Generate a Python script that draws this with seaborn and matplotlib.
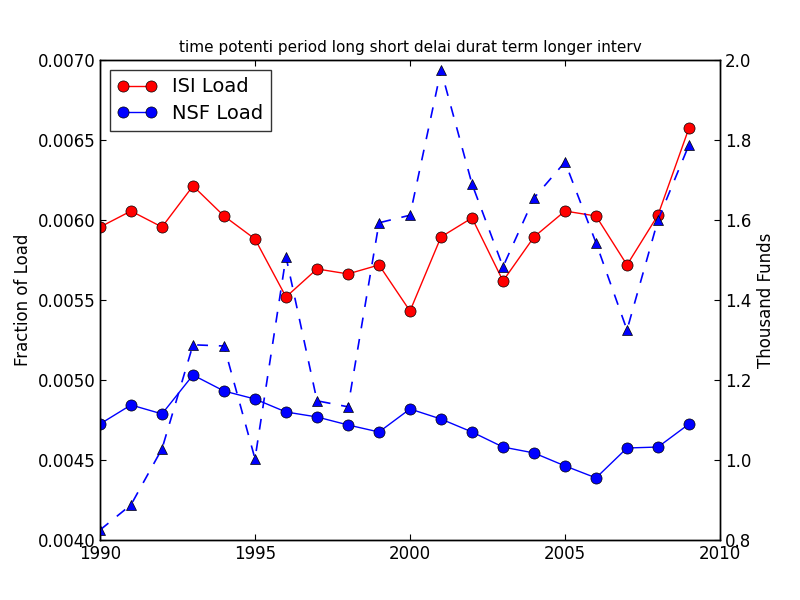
import matplotlib

matplotlib.use("Agg")
import matplotlib.pyplot as plt
import pandas as pd
import seaborn as sns

years = list(range(1990, 2010))

isi_load = [0.005956, 0.006056, 0.005956, 0.006213, 0.006025, 0.005881, 0.005519,
            0.005694, 0.005663, 0.005719, 0.005431, 0.005894, 0.006013, 0.005619,
            0.005894, 0.006056, 0.006025, 0.005719, 0.006031, 0.006575]
nsf_load = [0.004725, 0.004844, 0.004788, 0.005031, 0.004931, 0.004881, 0.004800,
            0.004769, 0.004719, 0.004675, 0.004819, 0.004756, 0.004675, 0.004581,
            0.004544, 0.004463, 0.004388, 0.004575, 0.004581, 0.004725]
funds = [0.825, 0.888, 1.028, 1.288, 1.285, 1.003, 1.508, 1.148, 1.133, 1.593,
         1.612, 1.975, 1.690, 1.483, 1.655, 1.745, 1.543, 1.325, 1.600, 1.788]

df = pd.DataFrame({"year": years, "isi": isi_load, "nsf": nsf_load, "funds": funds})

sns.set_style("white")
plt.rcParams["font.family"] = ["DejaVu Sans"]
plt.rcParams["xtick.direction"] = "in"
plt.rcParams["ytick.direction"] = "in"
plt.rcParams["text.color"] = "black"
plt.rcParams["axes.labelcolor"] = "black"
plt.rcParams["xtick.color"] = "black"
plt.rcParams["ytick.color"] = "black"

fig = plt.figure(figsize=(8, 6), dpi=100)
ax = fig.add_axes([0.125, 0.1, 0.775, 0.8])

sns.lineplot(data=df, x="year", y="isi", color="red", marker="o", markersize=8,
             markeredgecolor="black", markeredgewidth=0.5, linewidth=1,
             label="ISI Load", ax=ax)
sns.lineplot(data=df, x="year", y="nsf", color="blue", marker="o", markersize=8,
             markeredgecolor="black", markeredgewidth=0.5, linewidth=1,
             label="NSF Load", ax=ax)

ax.set_xlim(1990, 2010)
ax.set_ylim(0.004, 0.007)
ax.set_xticks([1990, 1995, 2000, 2005, 2010])
ax.set_yticks([0.0040, 0.0045, 0.0050, 0.0055, 0.0060, 0.0065, 0.0070])
ax.set_yticklabels([f"{v:.4f}" for v in ax.get_yticks()])
ax.set_xlabel("")
ax.set_ylabel("Fraction of Load", fontsize=12)
ax.set_title("time potenti period long short delai durat term longer interv",
             fontsize=11, color="black")
ax.tick_params(labelsize=12, length=4, top=True, bottom=True, left=True)

ax2 = ax.twinx()
sns.lineplot(data=df, x="year", y="funds", color="blue", marker="^", markersize=7,
             markeredgecolor="black", markeredgewidth=0.5, linewidth=1.2,
             ax=ax2, legend=False)
for ln in ax2.lines:
    ln.set_linestyle((0, (6.5, 6.5)))
ax2.set_ylim(0.8, 2.0)
ax2.set_xlim(1990, 2010)
ax2.set_yticks([0.8, 1.0, 1.2, 1.4, 1.6, 1.8, 2.0])
ax2.set_yticklabels([f"{v:.1f}" for v in ax2.get_yticks()])
ax2.set_ylabel("Thousand Funds", fontsize=12)
ax2.tick_params(labelsize=12, length=4, right=True)

for a in (ax, ax2):
    for s in a.spines.values():
        s.set_color("black")
        s.set_linewidth(1)

leg = ax.legend(loc="upper left", fontsize=14, frameon=True, fancybox=False,
                edgecolor="black", borderaxespad=0.5, handlelength=2.0,
                numpoints=2, borderpad=0.4, labelspacing=0.4)
leg.get_frame().set_linewidth(1)

fig.savefig("out.png", dpi=100)
